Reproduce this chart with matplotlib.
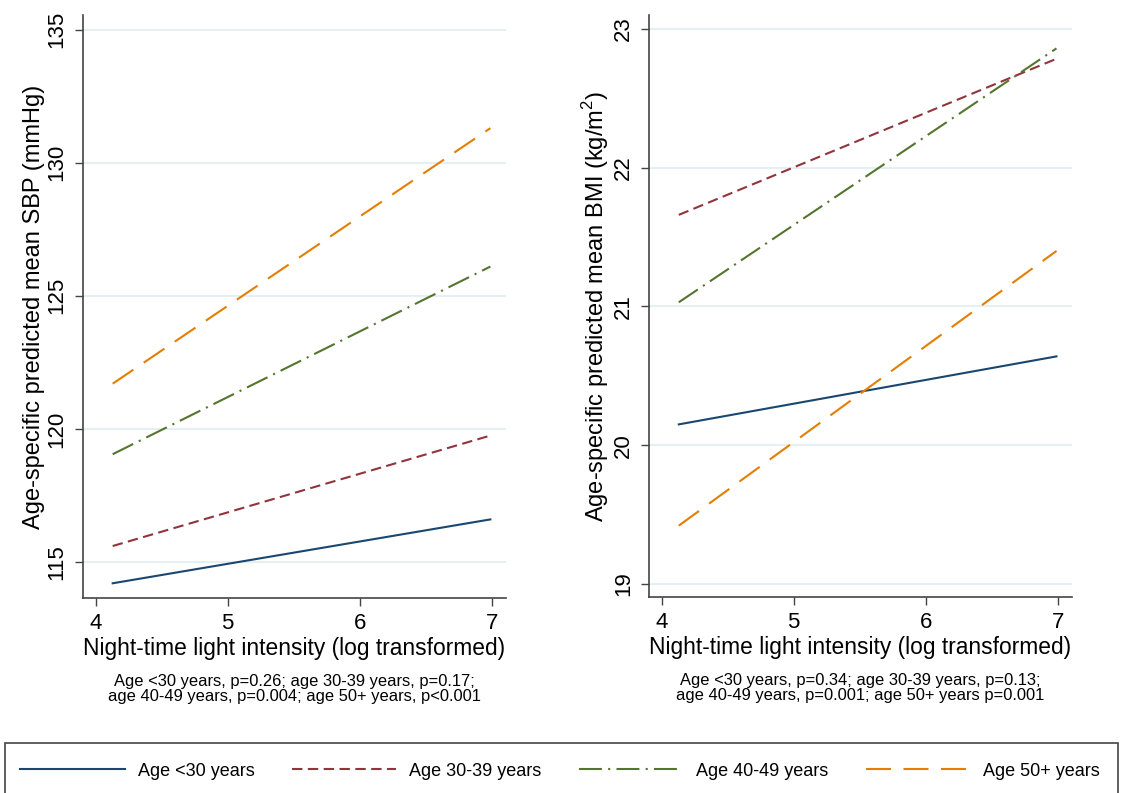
import matplotlib
matplotlib.use("Agg")
import matplotlib.pyplot as plt
from matplotlib.patches import Rectangle

plt.rcParams['font.family'] = ['Liberation Sans', 'DejaVu Sans']
plt.rcParams['mathtext.fontset'] = 'custom'
plt.rcParams['mathtext.rm'] = 'Liberation Sans'

# night-time light (log) at the two ends of the predicted range
light = [4.13, 6.99]

groups = ['Age <30 years', 'Age 30-39 years', 'Age 40-49 years', 'Age 50+ years']

# predicted mean SBP (mmHg) by age group
sbp = {
    'Age <30 years': [114.2, 116.6],
    'Age 30-39 years': [115.6, 119.75],
    'Age 40-49 years': [119.05, 126.1],
    'Age 50+ years': [121.7, 131.3],
}
# predicted mean BMI (kg/m2) by age group
bmi = {
    'Age <30 years': [20.15, 20.64],
    'Age 30-39 years': [21.66, 22.785],
    'Age 40-49 years': [21.03, 22.86],
    'Age 50+ years': [19.42, 21.40],
}

sbp_note = "Age <30 years, p=0.26; age 30-39 years, p=0.17;\nage 40-49 years, p=0.004; age 50+ years, p<0.001"
bmi_note = "Age <30 years, p=0.34; age 30-39 years, p=0.13;\nage 40-49 years, p=0.001; age 50+ years p=0.001"

# stata s2color style
styles = {
    'Age <30 years': dict(color='#1a476f', linestyle='-'),
    'Age 30-39 years': dict(color='#90353b', linestyle=(0, (5, 2.6))),
    'Age 40-49 years': dict(color='#55752f', linestyle=(0, (11, 3, 1, 3))),
    'Age 50+ years': dict(color='#e37e00', linestyle=(0, (12, 6))),
}

fig = plt.figure(figsize=(11.21, 7.93), dpi=100)
ax1 = fig.add_axes([0.074, 0.246, 0.377, 0.735])
ax2 = fig.add_axes([0.579, 0.247, 0.377, 0.734])

def setup(ax, data, yticks, ylim, ylabel, note):
    for g in groups:
        ax.plot(light, data[g], lw=1.5, label=g, **styles[g])
    ax.set_xlim(3.905, 7.105)
    ax.set_ylim(*ylim)
    ax.set_xticks([4, 5, 6, 7])
    ax.set_yticks(yticks)
    ax.set_yticklabels([str(t) for t in yticks], rotation=90, va='center')
    ax.grid(axis='y', color='#e6eff2', lw=1.5)
    ax.set_axisbelow(True)
    for s in ['top', 'right']:
        ax.spines[s].set_visible(False)
    for s in ['left', 'bottom']:
        ax.spines[s].set_color('#444444')
        ax.spines[s].set_linewidth(1.2)
    ax.tick_params(axis='both', labelsize=16, length=6, width=1, color='#444444', pad=5)
    ax.set_xlabel("Night-time light intensity (log transformed)", fontsize=16.4, labelpad=2)
    ax.set_ylabel(ylabel, fontsize=17, labelpad=1.5)
    ax.text(0.5, -0.13, note, transform=ax.transAxes, ha='center', va='top',
            fontsize=11.9, linespacing=1.05)

setup(ax1, sbp, [115, 120, 125, 130, 135], (113.65, 135.55),
      "Age-specific predicted mean SBP (mmHg)", sbp_note)
setup(ax2, bmi, [19, 20, 21, 22, 23], (18.905, 23.1),
      "Age-specific predicted mean BMI (kg/m$^2$)", bmi_note)

# legend box along the bottom edge
fig.patches.append(Rectangle((5 / 1121, -0.05), 1113 / 1121, 50 / 793 + 0.05,
                             transform=fig.transFigure, fill=False,
                             edgecolor='#444444', lw=1.2))
handles, labels = ax1.get_legend_handles_labels()
fig.legend(handles, labels, loc='center left', ncol=4, mode='expand',
           bbox_to_anchor=(4 / 1121, 22 / 793, 1112 / 1121, 0),
           frameon=False, fontsize=13, handlelength=5.8, handletextpad=0.7)

fig.savefig("out.png", dpi=100)
